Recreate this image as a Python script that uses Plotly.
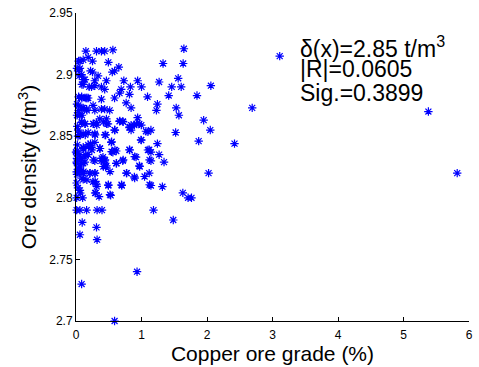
import plotly.graph_objects as go

# Copper ore grade (%) and ore density (t/m^3)
grade = [
    3.11, 2.69, 2.42, 5.38, 5.82,
    0.151, 0.313, 0.388, 0.438, 0.563, 1.647,
    0.06, 0.11, 0.186, 0.252, 0.494, 1.329, 1.636,
    0.06, 0.222, 0.654, 0.554, 0.589, 0.086, 0.252,
    0.136, 0.337, 0.287, 0.464, 0.73, 0.941, 1.269, 1.56,
    0.11, 0.201, 0.237, 0.287, 0.388, 0.438, 0.69, 0.831, 1.0, 1.461, 1.606, 2.059, 0.665,
    0.086, 0.151, 0.186, 0.388, 0.589, 0.816, 1.092, 1.415, 1.847,
    0.035, 0.11, 0.162, 0.261, 0.287, 0.388, 0.438, 0.514, 0.766, 0.841, 1.243, 1.228, 1.53,
    0.06, 0.086, 0.136, 0.261, 0.313, 0.363, 0.464, 0.488, 0.665, 0.714, 0.941, 0.841, 0.891, 0.967, 1.571, 1.949, 2.05,
    0.035, 0.11, 0.186, 0.287, 0.453, 0.589, 0.816, 0.841, 1.068, 1.144, 1.521, 0.05,
    0.11, 0.186, 0.222, 0.237, 0.287, 0.363, 0.539, 0.992, 1.243, 1.873,
    0.0, 0.06, 0.136, 0.186, 0.412, 0.388, 0.438, 0.563, 0.615, 0.816, 0.917, 1.118, 1.144, 1.269,
    0.01, 0.086, 0.136, 0.287, 0.464, 0.615, 0.714, 0.967, 1.144, 1.344,
    0.06, 0.11, 0.453,
    0.01, 0.11, 0.211, 0.287, 0.11, 0.261, 0.313, 0.775, 1.118, 0.891, 2.024, 0.494, 0.699, 1.144, 1.319,
    0.06, 0.302, 0.352, 0.01, 0.101, 0.529, 1.631, 1.711, 1.763,
    0.01, 0.06, 0.162, 0.322, 0.397, 1.183, 1.485, 0.095, 0.313, 0.06, 0.322, 0.932, 0.086, 0.589,
    0.04, 0.015, 0.04, 0.05, 0.117, 0.09, 0.04, 0.09, 0.166, 0.015, 0.09, 0.04, 0.166, 0.015, 0.09,
    0.015, 0.015, 0.015, 0.04, 0.06, 0.015, 0.02, 0.03, 0.02, 0.01, 0.03,
    0.09, 0.141, 0.267, 0.317, 0.418, 0.468, 0.669, 0.72, 0.82, 0.921, 0.997, 1.098,
    0.065, 0.141, 0.292, 0.443, 0.594, 0.544, 0.997,
    0.116, 0.192, 0.242, 0.367, 0.544, 0.594, 0.82, 1.098,
    0.015, 0.065, 0.141, 0.267, 0.393, 0.443, 0.418, 0.619, 0.72, 0.896, 0.972, 1.123,
    0.04, 0.116, 0.216, 0.292, 0.519, 0.77, 0.896, 1.047,
    0.09, 0.166, 0.292, 0.317, 0.494, 0.695, 1.123, 0.065, 0.292, 0.519,
]
density = [
    2.915, 2.873, 2.844, 2.870, 2.820,
    2.919, 2.919, 2.919, 2.919, 2.920, 2.921,
    2.911, 2.912, 2.914, 2.911, 2.910, 2.909, 2.909,
    2.905, 2.903, 2.906, 2.902, 2.903, 2.900, 2.902,
    2.896, 2.899, 2.895, 2.895, 2.895, 2.895, 2.894, 2.897,
    2.892, 2.890, 2.890, 2.891, 2.890, 2.888, 2.888, 2.890, 2.890, 2.890, 2.890, 2.891, 2.885,
    2.882, 2.881, 2.881, 2.880, 2.881, 2.884, 2.882, 2.883, 2.883,
    2.875, 2.873, 2.872, 2.875, 2.871, 2.872, 2.872, 2.871, 2.877, 2.873, 2.876, 2.871, 2.873,
    2.867, 2.861, 2.860, 2.860, 2.861, 2.864, 2.864, 2.860, 2.862, 2.862, 2.865, 2.859, 2.859, 2.860, 2.867, 2.863, 2.855,
    2.855, 2.852, 2.853, 2.852, 2.851, 2.855, 2.857, 2.855, 2.854, 2.855, 2.853, 2.851,
    2.841, 2.843, 2.844, 2.841, 2.845, 2.840, 2.845, 2.847, 2.844, 2.846,
    2.837, 2.835, 2.833, 2.835, 2.833, 2.830, 2.830, 2.837, 2.838, 2.839, 2.833, 2.839, 2.837, 2.835,
    2.829, 2.828, 2.829, 2.830, 2.826, 2.828, 2.830, 2.826, 2.830, 2.829,
    2.825, 2.828, 2.825,
    2.821, 2.820, 2.820, 2.820, 2.815, 2.813, 2.811, 2.820, 2.820, 2.817, 2.820, 2.810, 2.810, 2.810, 2.809,
    2.806, 2.804, 2.801, 2.800, 2.800, 2.802, 2.804, 2.800, 2.800,
    2.790, 2.790, 2.790, 2.790, 2.790, 2.790, 2.782, 2.780, 2.776, 2.770, 2.766, 2.740, 2.730, 2.700,
    2.911, 2.905, 2.904, 2.899, 2.896, 2.892, 2.882, 2.881, 2.881, 2.876, 2.873, 2.871, 2.871, 2.867, 2.867,
    2.838, 2.832, 2.828, 2.824, 2.821, 2.819, 2.843, 2.850, 2.858, 2.812, 2.808,
    2.8616, 2.860, 2.860, 2.859, 2.8616, 2.860, 2.8624, 2.8616, 2.8575, 2.860, 2.859, 2.8535,
    2.851, 2.851, 2.851, 2.851, 2.855, 2.8455, 2.8468,
    2.840, 2.8415, 2.8388, 2.840, 2.8374, 2.8388, 2.8388, 2.8388,
    2.836, 2.832, 2.8348, 2.8308, 2.832, 2.8308, 2.8254, 2.828, 2.8308, 2.8334, 2.8254, 2.8308,
    2.8227, 2.8213, 2.820, 2.820, 2.8213, 2.820, 2.816, 2.8173,
    2.816, 2.8146, 2.8133, 2.8093, 2.8106, 2.8106, 2.8106, 2.8039, 2.8039, 2.8026,
]

x_ticks = [0, 1, 2, 3, 4, 5, 6]
y_ticks = [2.7, 2.75, 2.8, 2.85, 2.9, 2.95]
y_tick_labels = ["2.7", "2.75", "2.8", "2.85", "2.9", "2.95"]
stats_lines = ["δ(x)=2.85 t/m<sup>3</sup>", "|R|=0.0605", "Sig.=0.3899"]
stats_y = [2.9227, 2.9042, 2.8849]
stats_x = 3.40

FONT = "Liberation Sans, Arial, sans-serif"

fig = go.Figure()
fig.add_trace(go.Scatter(
    x=grade, y=density, mode="markers", cliponaxis=False,
    marker=dict(symbol="asterisk-open", size=7, color="#0000ff",
                line=dict(color="#0000ff", width=1.2)),
    showlegend=False,
))

axis_common = dict(
    showgrid=False, zeroline=False, showline=True, linecolor="black", linewidth=1,
    ticks="inside", ticklen=4, tickcolor="black", mirror=False,
    tickfont=dict(family=FONT, size=12, color="black"),
)
fig.update_xaxes(range=[0, 6], tickvals=x_ticks, ticklabelstandoff=3,
                 title=dict(text="Copper ore grade (%)", standoff=4,
                            font=dict(family=FONT, size=21, color="black")),
                 **axis_common)
fig.update_yaxes(range=[2.7, 2.95], tickvals=y_ticks, ticktext=y_tick_labels,
                 title=dict(text="Ore density (t/m<sup>3</sup>)", standoff=6,
                            font=dict(family=FONT, size=21, color="black")),
                 **axis_common)

for line_text, ly in zip(stats_lines, stats_y):
    fig.add_annotation(
        x=stats_x, y=ly, xref="x", yref="y", xanchor="left", yanchor="middle",
        text=line_text, showarrow=False, align="left", borderpad=0,
        font=dict(family=FONT, size=23, color="black"),
    )

fig.update_layout(
    width=479, height=367,
    margin=dict(l=76, r=6, t=13, b=43),
    paper_bgcolor="white", plot_bgcolor="white",
)
fig.write_html("out.html")
